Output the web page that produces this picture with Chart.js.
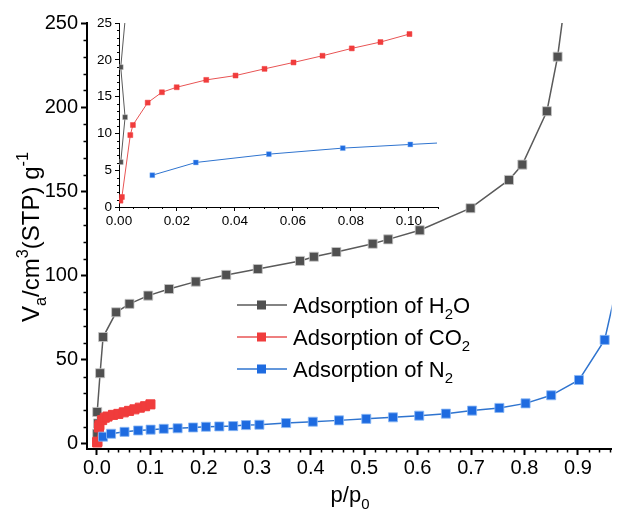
<!DOCTYPE html>
<html>
<head>
<meta charset="utf-8">
<script src="https://cdn.jsdelivr.net/npm/chart.js@4.4.0/dist/chart.umd.min.js"></script>
<style>
  html, body { margin: 0; padding: 0; background: #fff; }
  #wrap { position: relative; width: 619px; height: 515px; overflow: hidden; }
  #main { position: absolute; left: 0; top: 0; }
  #inset { position: absolute; left: 80px; top: 8px; }
</style>
</head>
<body>
<div id="wrap">
  <canvas id="main" width="619" height="515"></canvas>
  <canvas id="inset" width="370" height="230"></canvas>
</div>
<script>
// data (p/p0 vs adsorbed volume)
const h2oX = [0.0006, 0.0021, 0.0006, 0.006, 0.0116, 0.036, 0.061, 0.096, 0.135, 0.185, 0.242, 0.301, 0.380, 0.406, 0.448, 0.516, 0.545, 0.604, 0.699, 0.771, 0.796, 0.842, 0.862, 0.887];
const h2oY = [6.1, 12.2, 19.0, 42.0, 63.5, 78.2, 83.2, 88.1, 92.0, 96.4, 100.4, 103.9, 108.7, 111.2, 114.0, 118.9, 121.5, 126.9, 140.0, 156.8, 165.9, 197.6, 230.0, 290];

const co2X = [0.0005, 0.001, 0.0039, 0.0048, 0.0099, 0.0148, 0.0199, 0.0301, 0.0402, 0.0502, 0.0602, 0.0702, 0.0803, 0.0902, 0.1002];
const co2Y = [0.86, 1.36, 9.77, 11.14, 14.18, 15.59, 16.27, 17.27, 17.86, 18.77, 19.64, 20.55, 21.55, 22.41, 23.5];

const n2X = [0.0115, 0.0265, 0.0517, 0.0772, 0.1005, 0.125, 0.151, 0.180, 0.204, 0.229, 0.255, 0.279, 0.304, 0.354, 0.404, 0.453, 0.504, 0.554, 0.603, 0.653, 0.702, 0.753, 0.802, 0.850, 0.902, 0.950, 0.985];
const n2Y = [4.32, 6.05, 7.18, 8.0, 8.5, 9.0, 9.3, 9.8, 10.2, 10.4, 10.6, 11.2, 11.4, 12.4, 13.2, 14.0, 14.9, 15.8, 16.8, 18.0, 19.8, 21.4, 24.1, 28.9, 38.0, 61.8, 111];

const mainXTicks = [0, 0.1, 0.2, 0.3, 0.4, 0.5, 0.6, 0.7, 0.8, 0.9];
const mainYTicks = [0, 50, 100, 150, 200, 250];
const insetXTicks = [0, 0.02, 0.04, 0.06, 0.08, 0.10];
const insetYTicks = [0, 5, 10, 15, 20, 25];

const FONT = 'Arial, "Liberation Sans", sans-serif';

const COLORS = {
  h2o: { fill: '#505050', line: '#5a5a5a', edge: 'rgba(200,200,200,0.8)' },
  co2: { fill: '#f03c3c', line: '#e85454', edge: '#f03c3c' },
  n2:  { fill: '#1e6be0', line: '#2f74cf', edge: 'rgba(140,185,245,0.8)' }
};

const toPts = (xs, ys) => xs.map((x, i) => ({ x: x, y: ys[i] }));

function series(label, xs, ys, c, r, lw, order) {
  return {
    label: label,
    data: toPts(xs, ys),
    showLine: true,
    borderColor: c.line,
    borderWidth: lw,
    backgroundColor: c.fill,
    pointBackgroundColor: c.fill,
    pointBorderColor: c.edge,
    pointBorderWidth: r > 4 ? 1 : 0.5,
    pointStyle: 'rect',
    pointRadius: r,
    pointHoverRadius: r,
    tension: 0,
    order: order
  };
}

// text with sub / superscripts: parts = [[text, ''|'sub'|'sup'], ...]
function drawRich(ctx, parts, x, y, size, align) {
  const small = size * 0.68;
  let w = 0;
  parts.forEach(([t, k]) => {
    ctx.font = (k ? small : size) + 'px ' + FONT;
    w += ctx.measureText(t).width;
  });
  let cx = align === 'center' ? x - w / 2 : x;
  ctx.textAlign = 'left';
  ctx.textBaseline = 'alphabetic';
  parts.forEach(([t, k]) => {
    ctx.font = (k ? small : size) + 'px ' + FONT;
    const dy = k === 'sub' ? size * 0.3 : (k === 'sup' ? -size * 0.42 : 0);
    ctx.fillText(t, cx, y + dy);
    cx += ctx.measureText(t).width;
  });
}

const minorTicks = {
  id: 'minorTicks',
  afterDraw(chart, args, opts) {
    const ctx = chart.ctx;
    const area = chart.chartArea;
    const xs = chart.scales.x, ys = chart.scales.y;
    ctx.save();
    ctx.strokeStyle = '#000';
    ctx.lineWidth = opts.width;
    ctx.beginPath();
    opts.x.forEach(v => {
      const px = Math.round(xs.getPixelForValue(v)) + 0.5;
      ctx.moveTo(px, area.bottom);
      ctx.lineTo(px, area.bottom + opts.len);
    });
    opts.y.forEach(v => {
      const py = Math.round(ys.getPixelForValue(v)) + 0.5;
      ctx.moveTo(area.left, py);
      ctx.lineTo(area.left - opts.len, py);
    });
    ctx.stroke();
    ctx.restore();
  }
};

const decorations = {
  id: 'decorations',
  afterDraw(chart) {
    const ctx = chart.ctx;
    ctx.save();
    ctx.fillStyle = '#000';
    // y title
    ctx.save();
    ctx.translate(30, 237);
    ctx.rotate(-Math.PI / 2);
    drawRich(ctx, [['V', ''], ['a', 'sub'], ['/cm', ''], ['3', 'sup'], ['(STP) g', ''], ['-1', 'sup']], 0, 8.5, 24, 'center');
    ctx.restore();
    // x title
    drawRich(ctx, [['p/p', ''], ['0', 'sub']], 350, 502, 22, 'center');

    // legend
    const rows = [
      { c: COLORS.h2o, parts: [['Adsorption of H', ''], ['2', 'sub'], ['O', '']] },
      { c: COLORS.co2, parts: [['Adsorption of CO', ''], ['2', 'sub']] },
      { c: COLORS.n2,  parts: [['Adsorption of N', ''], ['2', 'sub']] }
    ];
    const rowY = [305, 337, 369];
    rows.forEach((r, i) => {
      const y = rowY[i];
      ctx.strokeStyle = r.c.line;
      ctx.lineWidth = 1.5;
      ctx.beginPath();
      ctx.moveTo(237, y);
      ctx.lineTo(287, y);
      ctx.stroke();
      ctx.fillStyle = r.c.fill;
      ctx.fillRect(257, y - 4.5, 9, 9);
      ctx.fillStyle = '#000';
      drawRich(ctx, r.parts, 293, y + 7.5, 22, 'left');
    });
    ctx.restore();
  }
};

function range(from, to, step, skipEvery) {
  const out = [];
  for (let i = 0; from + i * step <= to + 1e-9; i++) {
    if (i % skipEvery !== 0) out.push(+(from + i * step).toFixed(6));
  }
  return out;
}

function axis(min, max, tickVals, fmt, fontSize, pad, tickLen, lw, fitKey, fitVal) {
  return {
    type: 'linear',
    min: min,
    max: max,
    afterBuildTicks: s => { s.ticks = tickVals.map(v => ({ value: v })); },
    afterFit: s => { s[fitKey] = fitVal; },
    ticks: {
      callback: fmt,
      font: { family: FONT, size: fontSize },
      color: '#000',
      padding: pad,
      maxRotation: 0,
      autoSkip: false
    },
    grid: {
      display: true,
      drawOnChartArea: false,
      drawTicks: true,
      tickLength: tickLen,
      tickWidth: lw,
      tickColor: '#000'
    },
    border: { display: true, color: '#000', width: lw }
  };
}

new Chart(document.getElementById('main'), {
  type: 'scatter',
  data: {
    datasets: [
      series('H2O', h2oX, h2oY, COLORS.h2o, 6.4, 1.5, 3),
      series('CO2', co2X, co2Y, COLORS.co2, 6.4, 1.5, 2),
      series('N2', n2X, n2Y, COLORS.n2, 6.4, 1.5, 1)
    ]
  },
  options: {
    responsive: false,
    animation: false,
    events: [],
    layout: { padding: { top: 23, right: 0, left: 0, bottom: 0 } },
    scales: {
      x: axis(-0.0185, 0.963, mainXTicks, v => v.toFixed(1), 20, 1, 6, 2, 'height', 66),
      y: axis(-3, 250, mainYTicks, v => String(v), 20, 3, 6, 2, 'width', 87)
    },
    plugins: {
      legend: { display: false },
      tooltip: { enabled: false },
      minorTicks: { x: range(0, 0.96, 0.02, 5), y: range(0, 250, 10, 5), len: 3.5, width: 1.5 }
    }
  },
  plugins: [minorTicks, decorations]
});

new Chart(document.getElementById('inset'), {
  type: 'scatter',
  data: {
    datasets: [
      series('H2O', h2oX, h2oY, COLORS.h2o, 3.5, 1, 3),
      series('CO2', co2X, co2Y, COLORS.co2, 3.5, 1, 2),
      series('N2', n2X, n2Y, COLORS.n2, 3.5, 1, 1)
    ]
  },
  options: {
    responsive: false,
    animation: false,
    events: [],
    layout: { padding: { top: 15, right: 13, left: 0, bottom: 0 } },
    scales: {
      x: axis(0, 0.1097, insetXTicks, v => v.toFixed(2), 13.5, 2, 4, 1, 'height', 31),
      y: axis(0, 25, insetYTicks, v => String(v), 13.5, 3, 4, 1, 'width', 39)
    },
    plugins: {
      legend: { display: false },
      tooltip: { enabled: false },
      minorTicks: { x: range(0, 0.11, 0.005, 4), y: range(0, 25, 1, 5), len: 2, width: 1 }
    }
  },
  plugins: [minorTicks]
});
</script>
</body>
</html>
